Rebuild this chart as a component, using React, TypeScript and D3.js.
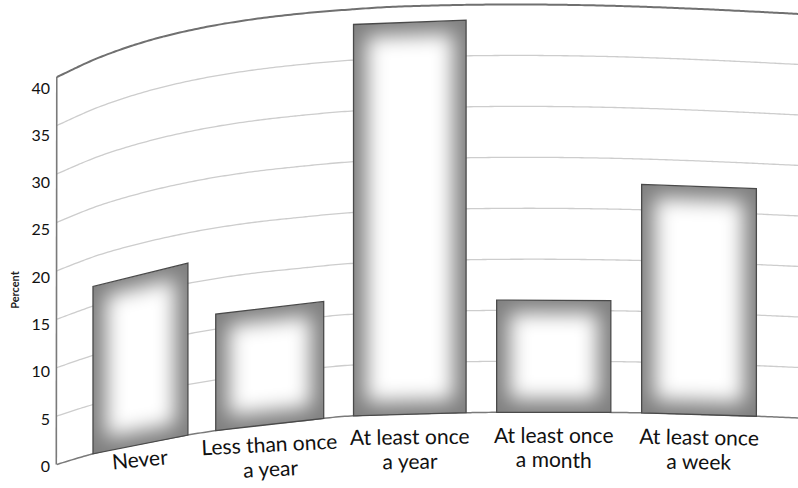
import React from "react";
import * as d3 from "d3";

// Survey frequencies (percent of respondents)
const categories = [
  "Never",
  "Less than once a year",
  "At least once a year",
  "At least once a month",
  "At least once a week",
];
const labelLines = [
  ["Never"],
  ["Less than once", "a year"],
  ["At least once", "a year"],
  ["At least once", "a month"],
  ["At least once", "a week"],
];
const percents = [17, 11.5, 38.5, 11, 22.5];
const yTicks = [0, 5, 10, 15, 20, 25, 30, 35, 40];

// Shape of the printed page: where the 40% line and the 0% baseline fall
// across the sheet (screen x -> screen y), since the page is curved.
const topEdgeKnots: [number, number][] = [
  [20, 95], [57, 77], [100, 57.2], [150, 40.2], [200, 28.2], [250, 19.7],
  [300, 13.7], [350, 9.5], [400, 6.5], [500, 4.5], [600, 5.5], [700, 9],
  [800, 14],
];
const baseEdgeKnots: [number, number][] = [
  [20, 476], [55, 465], [100, 452], [150, 442], [200, 433], [250, 426],
  [300, 421], [350, 416], [450, 413], [550, 412], [650, 413], [750, 416],
  [800, 418],
];

const W = 798;
const H = 488;
const FONT = "Lato, 'Open Sans', 'DejaVu Sans', sans-serif";

// cubic Hermite through knots, usable as y = f(x)
function smoothCurve(knots: [number, number][]) {
  const xs = knots.map((k) => k[0]);
  const ys = knots.map((k) => k[1]);
  const n = xs.length;
  const m = xs.map((_, i) => {
    if (i === 0) return (ys[1] - ys[0]) / (xs[1] - xs[0]);
    if (i === n - 1) return (ys[n - 1] - ys[n - 2]) / (xs[n - 1] - xs[n - 2]);
    return (ys[i + 1] - ys[i - 1]) / (xs[i + 1] - xs[i - 1]);
  });
  return (x: number) => {
    if (x <= xs[0]) return ys[0] + m[0] * (x - xs[0]);
    if (x >= xs[n - 1]) return ys[n - 1] + m[n - 1] * (x - xs[n - 1]);
    const i = Math.min(n - 2, d3.bisectRight(xs, x) - 1);
    const h = xs[i + 1] - xs[i];
    const t = (x - xs[i]) / h;
    const t2 = t * t;
    const t3 = t2 * t;
    return (
      (2 * t3 - 3 * t2 + 1) * ys[i] +
      (t3 - 2 * t2 + t) * h * m[i] +
      (-2 * t3 + 3 * t2) * ys[i + 1] +
      (t3 - t2) * h * m[i + 1]
    );
  };
}

const topEdge = smoothCurve(topEdgeKnots);
const baseEdge = smoothCurve(baseEdgeKnots);

// horizontal compression of the sheet near the binding
const pageX = (u: number) => u + 54 * Math.exp(-u / 140);

const value = d3.scaleLinear().domain([0, 40]).range([0, 1]);
const warpY = (x: number, v: number) =>
  baseEdge(x) + (topEdge(x) - baseEdge(x)) * value(v);

const AXIS_U = 4.5;
const band = d3
  .scaleBand<string>()
  .domain(categories)
  .range([AXIS_U, AXIS_U + 804.2])
  .paddingInner(0.212)
  .paddingOuter(0.36);

const axisX = pageX(AXIS_U);

const line = d3
  .line<[number, number]>()
  .x((d) => d[0])
  .y((d) => d[1])
  .curve(d3.curveCatmullRom);

const sampleXs = d3.range(axisX, W + 4, 3);
const levelPath = (v: number) =>
  line(sampleXs.map((x) => [x, warpY(x, v)] as [number, number])) || "";

export default function App() {
  const bars = categories.map((cat, i) => {
    const v = percents[i];
    const xl = pageX(band(cat)!);
    const xr = pageX(band(cat)! + band.bandwidth());
    const outer: [number, number][] = [
      [xl, baseEdge(xl)],
      [xl, warpY(xl, v)],
      [xr, warpY(xr, v)],
      [xr, baseEdge(xr)],
    ];
    const inset = 13;
    const il = xl + inset;
    const ir = xr - inset;
    const inner: [number, number][] = [
      [il, baseEdge(il) - inset],
      [il, warpY(il, v) + inset],
      [ir, warpY(ir, v) + inset],
      [ir, baseEdge(ir) - inset],
    ];
    const cx = (xl + xr) / 2;
    return { cat, i, outer, inner, cx };
  });

  const poly = (pts: [number, number][]) =>
    "M" + pts.map((p) => `${p[0].toFixed(2)},${p[1].toFixed(2)}`).join("L") + "Z";

  return (
    <svg
      width={W}
      height={H}
      viewBox={`0 0 ${W} ${H}`}
      style={{ position: "absolute", left: 0, top: 0, background: "#fff" }}
    >
      <defs>
        <filter id="glow" x="-50%" y="-50%" width="200%" height="200%">
          <feGaussianBlur stdDeviation="10" />
        </filter>
        {bars.map((b) => (
          <clipPath id={`bar-clip-${b.i}`} key={b.i}>
            <path d={poly(b.outer)} />
          </clipPath>
        ))}
      </defs>
      <rect x={0} y={0} width={W} height={H} fill="#fff" />

      {/* grid lines */}
      {yTicks
        .filter((t) => t > 0 && t < 40)
        .map((t) => (
          <path key={t} d={levelPath(t)} fill="none" stroke="#cdcdcd" strokeWidth={1.3} />
        ))}

      {/* upper frame and baseline */}
      <path d={levelPath(40)} fill="none" stroke="#707070" strokeWidth={2} />
      <path d={levelPath(0)} fill="none" stroke="#7a7a7a" strokeWidth={1.5} />

      {/* y axis */}
      <line
        x1={axisX}
        x2={axisX - 0.5}
        y1={warpY(axisX, 40)}
        y2={baseEdge(axisX)}
        stroke="#7a7a7a"
        strokeWidth={1.6}
      />

      {/* bars */}
      {bars.map((b) => (
        <g key={b.cat}>
          <g clipPath={`url(#bar-clip-${b.i})`}>
            <path d={poly(b.outer)} fill="#808080" />
            <path d={poly(b.inner)} fill="#ffffff" filter="url(#glow)" />
          </g>
          <path d={poly(b.outer)} fill="none" stroke="#4a4a4a" strokeWidth={1.3} />
        </g>
      ))}

      {/* y tick labels */}
      {yTicks.map((t) => (
        <text
          key={t}
          x={50}
          y={warpY(axisX, t) + 1 + 9 * value(t)}
          textAnchor="end"
          dominantBaseline="central"
          fontFamily={FONT}
          fontSize={16}
          fill="#111"
        >
          {t}
        </text>
      ))}

      {/* y axis title */}
      <text
        transform={`translate(14,290) rotate(-90)`}
        textAnchor="middle"
        dominantBaseline="central"
        fontFamily={FONT}
        fontSize={11}
        fontWeight={700}
        fill="#222"
      >
        Percent
      </text>

      {/* category labels */}
      {bars.map((b) => {
        const slope = (baseEdge(b.cx + 5) - baseEdge(b.cx - 5)) / 10;
        const angle = (Math.atan(slope) * 180) / Math.PI * 0.5;
        const y1 = 0.75 * baseEdge(b.cx) + 134;
        return (
          <text
            key={b.cat}
            transform={`translate(${b.cx},${y1}) rotate(${angle})`}
            textAnchor="middle"
            fontFamily={FONT}
            fontSize={21}
            fill="#111"
          >
            {labelLines[b.i].map((ln, j) => (
              <tspan key={j} x={0} y={j * 24.5}>
                {ln}
              </tspan>
            ))}
          </text>
        );
      })}
    </svg>
  );
}
